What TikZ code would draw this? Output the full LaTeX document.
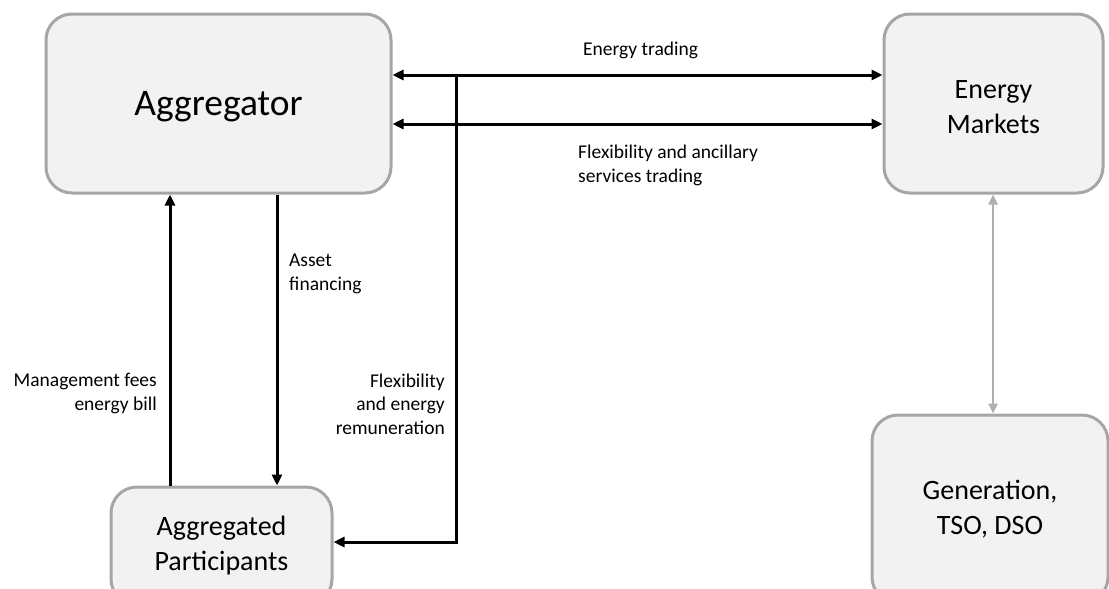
\documentclass[tikz,border=0pt]{standalone}
\usepackage{fontspec}
\setmainfont{Carlito}
\usetikzlibrary{arrows.meta}
\definecolor{boxfill}{HTML}{F2F2F2}
\definecolor{boxline}{HTML}{A6A6A6}
\definecolor{linkgrey}{HTML}{AFAFAF}
\tikzset{
entity/.style={shape=rectangle, rounded corners=26pt, draw=boxline, fill=boxfill,
    line width=3pt, inner sep=0pt, align=center},
flow/.style={line width=3pt, draw=black, -{Triangle[length=11pt,width=10pt]}},
biflow/.style={line width=3pt, draw=black,
    {Triangle[length=11pt,width=10pt]}-{Triangle[length=11pt,width=10pt]}},
greyflow/.style={line width=2.4pt, draw=linkgrey,
    {Triangle[length=10pt,width=9pt]}-{Triangle[length=10pt,width=9pt]}},
note/.style={inner sep=0pt, font=\fontsize{19.5}{23.5}\selectfont}}

\begin{document}
\begin{tikzpicture}[x=1pt, y=-1pt]

                \useasboundingbox (0,0) rectangle (1109,589);

                \node[entity, minimum width=345pt, minimum height=179pt, text depth=-2pt, font=\fontsize{37.5}{45}\selectfont] (agg) at (218.5,103.5) {Aggregator};
                \node[entity, minimum width=219pt, minimum height=179pt, text height=60pt, font=\fontsize{28}{35}\selectfont] (mkt) at (993.5,103.5) {Energy\\Markets};
                \node[entity, minimum width=221pt, minimum height=118pt, font=\fontsize{28}{35}\selectfont] (part) at (221.5,546) {Aggregated\\Participants};
                \node[entity, minimum width=236pt, minimum height=188pt, font=\fontsize{28}{35}\selectfont] (gen) at (990,509) {Generation,\\TSO, DSO};

                \coordinate (tradeRow) at (0,75);
                \coordinate (flexRow) at (0,124);
                \coordinate (payRow) at (0,542);
                \coordinate (tap) at (456,75);
                \coordinate (feeCol) at (170,0);
                \coordinate (assetCol) at (277,0);
                \coordinate (gridCol) at (993,0);

                \draw[biflow] (agg.east |- tradeRow) -- (mkt.west |- tradeRow);
                \draw[biflow] (agg.east |- flexRow) -- (mkt.west |- flexRow);
                \draw[flow] (part.north -| feeCol) -- (agg.south -| feeCol);
                \draw[flow] (agg.south -| assetCol) -- (part.north -| assetCol);
                \draw[flow] (tap) |- (part.east |- payRow);
                \draw[greyflow] (mkt.south -| gridCol) -- (gen.north -| gridCol);

                % base anchor of a multi-line note sits on its last line
                \node[note, anchor=base west] (tradeLbl) at (583,55) {Energy trading};
                \node[note, anchor=base west, align=left] (flexLbl) at (578,182) {Flexibility and ancillary\\services trading};
                \node[note, anchor=base west, align=left] (assetLbl) at (289,290) {Asset\\financing};
                \node[note, anchor=base east, align=right] (feeLbl) at (157,410) {Management fees\\energy bill};
                \node[note, anchor=base east, align=right] (payLbl) at (445,434) {Flexibility\\and energy\\remuneration};

            \end{tikzpicture}
\end{document}
